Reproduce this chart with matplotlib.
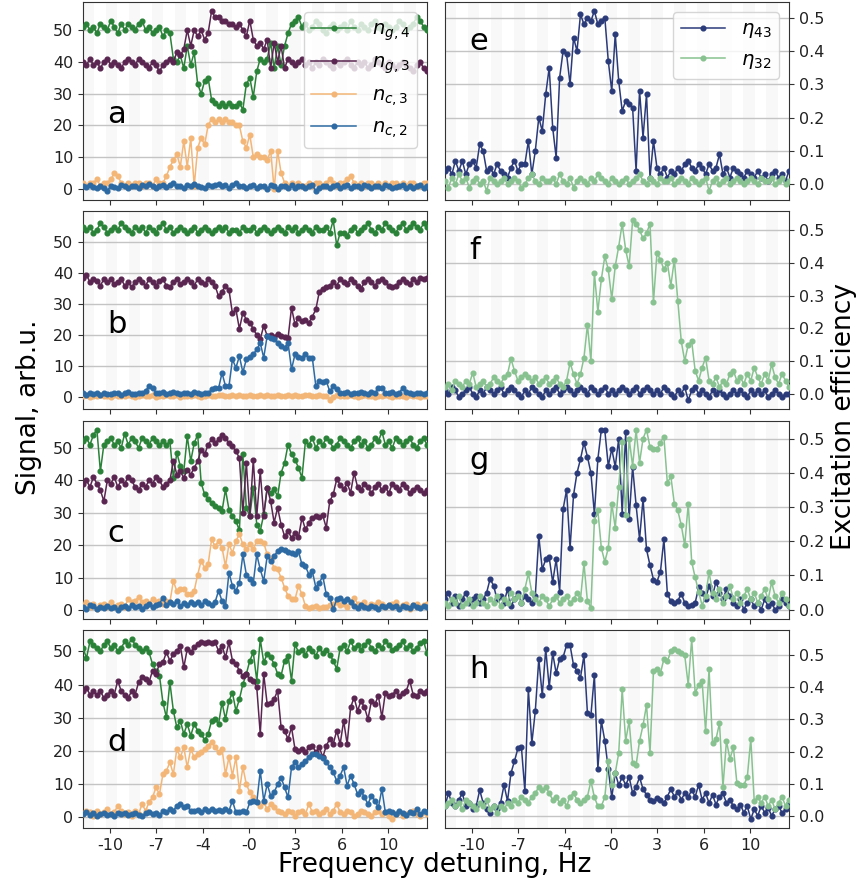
import matplotlib.pyplot as plt
import numpy as np

# ---- panel a / e ----
a_ng4 = [51, 52, 50, 51, 49, 52, 51, 50, 53, 51, 49, 52, 50, 52, 51, 50, 52, 53, 50, 51,
         49, 50, 51, 48, 50, 49, 41, 40, 42, 38, 45, 39, 43, 33, 30, 34, 35, 28, 27, 26,
         27, 26, 27, 26, 26, 27, 25, 33, 35, 29, 37, 41, 40, 41, 46, 38, 45, 39, 45, 49,
         52, 53, 54, 51, 52, 50, 51, 53, 52, 50, 49, 51, 52, 50, 51, 52, 50, 53, 51, 50,
         52, 51, 50, 52, 53, 51, 50, 52, 51, 50, 51, 53, 52, 50, 51, 52, 54, 53, 51, 50]
a_ng3 = [40, 39, 41, 39, 40, 38, 40, 41, 39, 40, 39, 38, 40, 41, 40, 39, 41, 40, 39, 38,
         40, 39, 37, 39, 40, 41, 40, 43, 42, 44, 50, 45, 50, 48, 50, 47, 49, 56, 54, 54,
         53, 53, 52, 52, 51, 52, 50, 48, 53, 47, 45, 46, 44, 47, 38, 46, 40, 45, 38, 41,
         40, 39, 40, 41, 39, 40, 38, 40, 39, 41, 40, 39, 38, 40, 39, 40, 41, 39, 38, 40,
         39, 40, 38, 39, 41, 40, 39, 38, 40, 39, 38, 39, 40, 39, 38, 37, 39, 40, 38, 37]
a_nc3 = [2, 1, 2, 2, 3, 1, 2, 2, 3, 5, 4, 2, 1, 2, 1, 2, 2, 1, 2, 2,
         1, 3, 2, 2, 4, 7, 9, 11, 7, 15, 7, 16, 1, 13, 16, 14, 20, 22, 21, 22,
         21, 22, 21, 21, 20, 20, 15, 13, 17, 10, 11, 10, 10, 9, 12, 0, 12, 5, 2, 1,
         2, 1, 2, 1, 1, 2, 1, 2, 2, 1, 2, 3, 2, 1, 2, 2, 3, 4, 2, 1,
         2, 1, 2, 2, 1, 2, 1, 2, 1, 2, 2, 1, 2, 1, 2, 2, 1, 1, 2, 2]
a_nc2 = [0.8, 0.5, 1.2, 0.6, 0.3, 1.0, 0.4, -0.5, 0.9, 0.7, 0.2, 1.1, 0.8, 0.4, 1.0, 0.9, 0.3, 1.2, 0.8, 1.6,
         1.0, 0.3, 0.9, 1.1, 0.7, 1.3, 1.8, 1.0, 0.9, 0.2, 1.1, 0.8, 1.5, 1.0, 0.7, 0.4, 1.2, 0.9, 1.1, 1.7,
         1.0, 1.2, 0.3, 1.1, 1.9, 0.8, 1.0, 0.2, 0.9, 1.1, 0.3, 1.0, 0.9, 0.1, 1.2, 0.8, 0.0, 1.0, 0.9, 0.2,
         1.1, 0.4, 0.9, 1.0, 0.2, 0.8, 1.2, -0.6, 0.3, 0.9, 1.0, 0.2, 0.8, 1.1, 0.3, 0.9, 1.2, 0.4, 0.8, 1.0,
         0.3, 1.1, 0.9, 0.2, 0.8, 1.0, 0.4, 1.1, 0.9, 0.3, 0.7, 1.0, 1.2, 0.3, 0.9, 0.4, 0.8, 1.1, 0.2, 0.9]
e_eta43 = [0.04, 0.05, 0.03, 0.07, 0.04, 0.07, 0.03, 0.06, 0.07, 0.05, 0.12, 0.10, 0.04, 0.05, 0.03,
           0.06, 0.04, 0.03, 0.02, 0.05, 0.07, 0.04, 0.06, 0.06, 0.13, 0.03, 0.10, 0.20, 0.16, 0.27,
           0.35, 0.17, 0.08, 0.32, 0.40, 0.39, 0.30, 0.44, 0.40, 0.51, 0.48, 0.50, 0.49, 0.52, 0.48,
           0.49, 0.50, 0.37, 0.28, 0.45, 0.31, 0.22, 0.25, 0.24, 0.23, 0.04, 0.28, 0.14, 0.27, 0.02,
           0.13, 0.05, 0.03, 0.05, 0.02, 0.04, 0.03, 0.05, 0.04, 0.06, 0.07, 0.05, 0.04, 0.06, 0.05,
           0.03, 0.06, 0.04, 0.05, 0.09, 0.03, 0.05, 0.02, 0.05, 0.04, 0.03, 0.02, 0.04, 0.03, 0.02,
           0.04, 0.02, 0.03, 0.01, 0.03, 0.04, 0.02, 0.03, 0.01, 0.04]
e_eta32 = [0.01, -0.01, 0.02, 0.00, 0.03, 0.01, 0.02, -0.01, 0.01, 0.02, 0.00, 0.01, -0.02, 0.02, 0.01,
           0.00, 0.01, 0.02, 0.00, 0.01, 0.02, 0.01, -0.01, 0.00, 0.02, 0.03, 0.01, 0.00, 0.02, 0.01,
           0.01, 0.02, 0.00, 0.03, 0.01, 0.00, 0.02, -0.01, 0.01, 0.02, 0.01, 0.00, 0.02, 0.01, 0.03,
           0.02, 0.01, 0.00, 0.02, 0.01, 0.00, 0.01, 0.02, 0.00, 0.01, 0.02, 0.03, 0.01, 0.00, 0.02,
           0.01, 0.00, 0.02, 0.01, 0.01, 0.02, 0.00, 0.01, 0.02, 0.01, 0.00, 0.02, 0.01, 0.00, 0.01,
           0.02, -0.02, 0.01, 0.02, 0.00, 0.01, 0.02, 0.00, 0.01, 0.02, 0.01, 0.00, 0.01, 0.02, 0.01,
           0.00, 0.02, 0.01, 0.01, 0.02, 0.00, 0.01, 0.02, 0.00, 0.01]

# ---- panel b / f ----
b_ng4 = [55, 54, 55, 53, 54, 56, 55, 53, 54, 55, 54, 56, 55, 54, 53, 55, 54, 55, 53, 55,
         54, 53, 55, 56, 54, 55, 53, 54, 55, 54, 53, 54, 55, 53, 54, 55, 54, 53, 54, 55,
         54, 55, 53, 54, 54, 53, 55, 54, 54, 55, 53, 54, 55, 54, 53, 54, 55, 54, 53, 55,
         54, 55, 53, 54, 55, 54, 53, 55, 54, 54, 55, 53, 57, 49, 53, 53, 52, 54, 55, 53,
         54, 55, 56, 54, 53, 55, 54, 56, 55, 54, 53, 55, 56, 54, 55, 56, 55, 54, 56, 55]
b_ng3 = [38.5, 39.5, 37, 38, 37.5, 36, 38, 37, 38, 36.5, 37, 38, 36, 37, 35.5, 37, 38, 37, 36, 38,
         37, 36, 37.5, 38, 36, 35.5, 37, 38, 36.5, 37, 38, 37, 36, 38, 37, 36.5, 38, 37,
         36, 32.5, 34, 36, 34.6, 27, 28.3, 22, 27.2, 25, 24, 22, 20, 18.7, 23, 19.8, 20, 19.5,
         20.5, 19.8, 19.5, 19, 28.8, 23.5, 25.6, 24.5, 25, 24, 26, 28.3, 34, 35, 35.5, 36,
         37, 36, 38, 37, 36.5, 38, 37, 36, 35, 37, 38, 37, 36, 37.5, 38, 37, 36, 35.5, 36, 37,
         38, 37, 36.5, 38, 37, 38.5, 38, 38.5]
b_nc3 = [0.3, 0.6, 0.2, 0.5, 0.4, 0.7, 0.3, 0.5, 0.2, 0.6, 0.4, 0.5, 0.3, 0.7, 0.4, 0.2, 0.5, 0.6, 0.3, 0.4,
         0.6, 0.2, 0.5, 0.4, 0.7, 0.3, 0.5, 0.6, 0.2, 0.4, 0.5, 0.3, 0.6, 0.4, 0.2, 0.5, 0.7, 0.3, 0.4, 0.6,
         0.8, 0.5, 0.3, 0.6, 0.4, 0.7, 0.5, 0.3, 0.6, 0.4, 0.5, 0.8, 0.3, 0.6, 0.5, 0.4, 0.7, 0.3, 0.5, 0.6,
         0.4, 0.8, 0.5, 0.3, 0.6, 0.7, 0.4, 0.5, 0.6, 0.3, 0.5, -1.0, 0.2, 0.6, 0.4, 0.5, 0.3, 0.7, 0.4, 0.2,
         0.5, 0.6, 0.3, 0.4, 0.2, 0.5, 0.3, 0.6, 0.4, 0.2, 0.5, 0.3, 0.4, 0.2, 0.6, 0.3, 0.5, 0.2, 0.4, 0.3]
b_nc2 = [1.2, 0.8, 1.5, 1.0, 1.3, 0.7, 1.4, 1.1, 0.9, 1.5, 1.2, 0.8, 1.3, 1.6, 1.0, 0.9, 1.4, 1.2, 2.0, 3.6,
         2.8, 1.5, 1.2, 1.8, 1.0, 1.4, 1.6, 1.2, 0.9, 1.5, 1.3, 1.1, 1.6, 1.4, 1.0, 1.3, 1.2,
         2.5, 3.0, 2.8, 7.8, 3.6, 3.5, 12.2, 9.5, 13.2, 8.0, 12.2, 12.8, 13.8, 15.4, 17.5, 12.7, 19.8, 19.0,
         18.7, 17.5, 16.5, 16.0, 17.5, 9.0, 13.8, 13.0, 12.7, 14.0, 12.7, 12.5, 3.6, 5.2, 5.0, 5.2, 1.9, 3.5,
         2.5, 1.5, 1.3, 1.6, 1.1, 1.5, 1.2, 1.8, 1.4, 1.0, 1.6, 1.3, 2.8, 3.0, 1.5, 1.2, 1.8, 1.1, 1.4, 3.0,
         1.6, 1.2, 1.0, 1.5, 1.3, 1.1, 1.2]
f_eta43 = [0.01, 0.00, 0.02, 0.01, -0.01, 0.00, 0.01, 0.02, 0.00, -0.01, 0.01, 0.00, 0.02, 0.01, 0.00,
           0.01, 0.02, 0.00, 0.01, 0.02, 0.01, 0.00, -0.01, 0.01, 0.00, 0.02, 0.01, 0.00, -0.01, 0.01,
           0.00, 0.01, 0.02, 0.00, 0.01, 0.02, 0.01, 0.00, 0.01, 0.02, 0.01, 0.00, 0.02, 0.01, 0.00,
           0.01, 0.02, 0.00, 0.01, 0.00, 0.01, 0.02, 0.01, 0.00, 0.01, 0.02, 0.00, 0.01, 0.02, 0.01,
           0.00, 0.01, 0.00, 0.02, 0.01, 0.00, -0.01, 0.01, 0.00, 0.02, -0.02, 0.01, 0.02, 0.00, 0.01,
           0.00, -0.01, 0.01, 0.00, 0.01, 0.00, -0.01, 0.00, 0.01, 0.00, 0.01, 0.00, -0.01, 0.01, 0.00,
           0.01, 0.00, 0.01, -0.01, 0.00, 0.01, 0.00, -0.01, 0.00, 0.00]
f_eta32 = [0.02, 0.03, 0.01, 0.04, 0.03, 0.02, 0.04, 0.03, 0.064, 0.02, 0.03, 0.04, 0.02, 0.03, 0.05,
           0.04, 0.03, 0.05, 0.06, 0.107, 0.07, 0.04, 0.05, 0.06, 0.05, 0.04, 0.05, 0.03, 0.04, 0.05,
           0.03, 0.04, 0.05, 0.03, 0.02, 0.04,
           0.095, 0.06, 0.03, 0.06, 0.11, 0.21, 0.10, 0.37, 0.25, 0.35, 0.42, 0.38, 0.29, 0.39, 0.45,
           0.52, 0.44, 0.39, 0.53, 0.52, 0.50, 0.475, 0.49, 0.52, 0.28, 0.43, 0.41, 0.38, 0.40, 0.33,
           0.41, 0.285, 0.16, 0.10, 0.15, 0.16, 0.07, 0.04, 0.08,
           0.11, 0.04, 0.03, 0.05, 0.02, 0.04, 0.03, 0.06, 0.07, 0.04, 0.05, 0.03, 0.06, 0.04, 0.08,
           0.05, 0.03, 0.06, 0.04, 0.09, 0.05, 0.03, 0.06, 0.04, 0.02]

# ---- panel c / g ----
c_ng4 = [52, 53, 51, 54, 55.6, 42.8, 51, 52, 53, 51, 52, 50, 54.4, 51, 53, 52, 50, 53, 52, 51,
         53, 52, 51, 52, 51, 52,
         40.8, 48.5, 44.4, 42.8, 53.6, 45.9, 51.5, 54.1, 39.2, 35.7, 34.4, 33.1, 32.1, 31.6, 30.5,
         37.2, 31, 29, 27.5, 24.6, 48,
         31.6, 29, 37.7, 26.4, 24.4, 29.5, 37.7, 36.2, 37.2, 35.1, 42.3, 45.4, 51, 48, 46.4, 43.9, 40.8,
         52, 51, 53, 50, 52, 51, 53, 52, 50, 51, 53, 52, 51, 50, 52, 53, 51, 52, 50, 51,
         53, 52, 55, 51, 52, 50, 53, 52, 51, 52, 53, 51, 50, 52, 53, 51]
c_ng3 = [39, 40, 38, 41, 39, 37, 33.6, 40, 39, 41, 38, 40, 39, 41, 40, 38, 37, 39, 38, 40,
         39, 41, 40, 38, 39, 40,
         45.9, 41.8, 42.8, 40.8, 43.3, 41.8, 43.9, 45.9, 49.5, 48, 51, 52.6, 51.5, 52.6, 54.1, 53.1,
         51.5, 50.5, 49,
         46.9, 30, 45.4, 29, 46.4, 29, 42.8, 29, 37.7, 33.6, 27, 31.6, 26.4, 22.8, 24.4, 22.3, 23.9,
         22.5, 28.5, 24.9, 27, 28.5, 29, 28.8, 29.2, 25.4, 33.6, 35.7, 40.3, 38.7, 37.2, 39.2, 36.2, 42.3,
         38, 37, 39, 38, 36, 38, 39, 37, 38, 36, 39, 38, 37, 39, 38, 36, 37, 38, 37, 36, 37]
c_nc3 = [1.5, 2.5, 1, 2, 0.5, 1.5, 2, 1, 2.5, 1, 1.5, 2, 1,
         3.5, 2.5, 3, 4, 2.5, 3, 2, 3.5, 2.5, 3, 2, 3, 2.5,
         9, 5.9, 6.5, 6.5, 4.9, 4.9, 6, 11, 15.2, 13.1, 14.1, 21.8, 19.8, 21.3, 19.3, 13.6, 20.3,
         17.7, 21.3, 23.4, 20.3, 18.8, 20.3, 18.8, 21.3, 21.3, 20.8, 17.2, 15.7, 13.1, 12.6, 10, 7,
         4.4, 3.4, 3.4, 7.5, 4.9, 1.3, 0.8, 1, 1.2, 0.8, 1, 0.9,
         1.5, 2, 2.5, 1.5, 2, 1, 2.5, 3.9, 2, 1.5, 2.5, 1, 2, 1.5, 2.5, 2, 1, 1.5, 2, 2.5,
         1, 1.5, 2, 0.5, 1.5, 2, 1, 1.5, 2]
c_nc2 = [1, 0.5, 1.5, 1.2, 0.3, 1, 0.8, 1.4, 0.6, 1.1, 0.2, 1, 1.3, 0.7, 1.5, 0.9, 1.2, 0.5, 1.4, 1.8,
         1, 1.6, 2,
         3.9, 1.5, 2.4, 1.8, 2.9, 1.3, 2.2, 1.6, 2.7, 1.9, 2.4, 1.5, 2.8, 2.1, 1.6, 2.5, 6, 2.9, 1.3,
         11.6, 7.5, 6, 8.5,
         17.2, 11, 9.5, 8.5, 17.2, 12.6, 9, 16.7, 15.2, 16.7, 18.2, 18.8, 18.5, 18, 17.7, 17.2, 18.2,
         14.1, 13.6, 11, 12, 7, 8.5, 10.5, 4.9, 3.9, 0.3, 3.4, 3.9, 2.9, 3.5, 2.5,
         1.2, 0.8, 1.5, 1, 0.6, 1.3, 1.1, 0.5, 1.4, 1, 1.6, 0.9, 1.2, 0.4, 1.3, 1, 0.7, 1.5, 1.1, 0.6,
         1.2, 0.9]
g_eta43 = [0.03, 0.05, 0.02, 0.04, 0.01, 0.03, 0.05, 0.02, 0.03, 0.04, 0.02, 0.03, 0.05, 0.09, 0.07,
           0.03, 0.04, 0.02, 0.06, 0.01, 0.03, 0.05, 0.02, 0.04, 0.03, 0.02,
           0.04, 0.215, 0.118, 0.147, 0.153, 0.08, 0.147, 0.053, 0.294, 0.35, 0.18, 0.335, 0.40, 0.44,
           0.488, 0.447, 0.40, 0.28, 0.44, 0.526, 0.524, 0.42, 0.47, 0.418, 0.5, 0.28, 0.518, 0.265,
           0.418, 0.306, 0.206, 0.324, 0.176, 0.13, 0.088, 0.082, 0.11, 0.206, 0.047, 0.024, 0.02,
           0.025, 0.047, 0.02, 0.01, 0.015, 0.02, 0.065, 0.05, 0.03, 0.07, 0.04, 0.082, 0.05, 0.03,
           0.06, 0.04,
           0.02, 0.01, 0.03, 0.0, 0.02, 0.03, 0.01, 0.02, 0.0, 0.03, 0.01, 0.02, 0.0, 0.01, 0.03, 0.02, 0.01]
g_eta32 = [0.02, 0.01, 0.03, 0.02, 0.04, 0.01, 0.02, 0.03, 0.01, 0.02, 0.04, 0.02, 0.01, 0.03, 0.02,
           0.04, 0.01, 0.03, 0.02, 0.05, 0.03, 0.04, 0.02, 0.06, 0.106, 0.05, 0.03, 0.02, 0.04, 0.03,
           0.01, 0.03, 0.04, 0.02, 0.03, 0.04, 0.02, 0.03, 0.05, 0.03,
           0.135, 0.024, 0.006, 0.26, 0.29, 0.18, 0.14, 0.18, 0.31, 0.24, 0.36, 0.49, 0.276, 0.5, 0.42,
           0.524, 0.43, 0.5, 0.526, 0.476, 0.47, 0.47, 0.488, 0.506, 0.37, 0.39, 0.31, 0.29, 0.247,
           0.188, 0.31, 0.14, 0.094, 0.053, 0.012, 0.04, 0.11, 0.05,
           0.03, 0.06, 0.02, 0.04, 0.07, 0.03, 0.05, 0.02, 0.04, 0.06, 0.03, 0.05, 0.02, 0.04, 0.06,
           0.03, 0.08, 0.04, 0.02, 0.05, 0.03, 0.01]

# ---- panel d / h ----
d_ng4 = [51, 48, 53, 52, 51, 50, 52, 53, 51, 52, 50, 51, 53, 52, 53.7, 52, 51, 50, 51,
         49.7, 46.2, 44.2, 42.7, 34.6, 30.1, 40.7, 32.1, 27.1, 29.1, 25.1, 28.1, 24.6, 28.1, 26.1,
         25.1, 23.3, 25.1, 29.1, 29.6, 28.1, 34.6, 29.6, 35.1, 37.6, 32.1, 35.6, 40.1, 43.2, 47.2, 49.7,
         41.2, 53.7, 46.7, 49.2, 48.2, 46.2, 43.2, 42.7, 47.2, 48.7, 41.2, 52.2, 49.7,
         50.5, 49, 51, 50, 48.7, 51, 49.5, 50.5, 49, 47.2, 44.7,
         51, 52, 50, 53, 51, 52, 50.5, 52, 53, 51, 50, 52, 51, 53, 52, 50.5, 51, 52, 53, 51,
         52, 50, 51, 52.5, 53, 49.4]
d_ng3 = [38, 39, 37, 38, 37, 38, 36, 37, 38, 37, 41.2, 38, 37, 36, 38, 37,
         40.7, 42.2, 41.7, 40.7, 44.2, 43.2, 46.2, 46.7, 49.7, 47.2, 49.2, 50.2, 51.7, 45.2, 50.7,
         49.7, 51.2, 52.2, 52.7, 52.5, 52.7, 52.4, 52.7, 50.2, 51.7, 48.2, 52.7, 47.2, 46.2, 44.2,
         42.7, 43.2, 41.7,
         41.2, 39.2, 25.1, 43.2, 34.1, 34.6, 35.6, 38.2, 27.1, 26.1, 23.6, 27.1, 20.6, 20.1, 20.6,
         19.6, 21.1, 21.6, 19.6, 21.1, 18.1, 21.6, 23.6, 22.1, 26.1, 22.1, 29.1, 22.1, 33.1, 36.1,
         32.1, 35.1, 33.1, 29.6, 35.1, 34.1, 36.6, 30.1, 37.6,
         36.6, 37, 38, 36.5, 37.5, 38, 41.2, 37, 36.5, 38, 37.5, 38.2]
d_nc3 = [1, 2, 1.5, 0.5, 2, 1, 1.5, 2.5, 1, 1.5, 3.5, 2, 1, 1.5, 0.5, 2, 1,
         4, 2, 4.5, 6, 9, 7, 13, 14, 16.6, 13, 20.6, 18.1, 21.1, 15.1, 20.6, 18.1, 19.1, 19.6, 20.5,
         21.6, 22.6, 21.1, 19.6, 20.6, 13, 18.1, 12.6, 18.1, 8, 15.1, 10, 7.5, 6, 4.5, 3.5, 4.5, 2.5,
         4, 3, 2,
         1.5, 1, 2, 1.5, 0.5, 1.5, 2, 1, 4, 1.5, 2, 1, 1.5, 2.5, 1, 2, 4, 1.5, 1, 2,
         1.5, 0.5, 1, 2, 1.5, 1, 0.5, 1.5, 2, 1, 1.5, 0.5, -0.5, 1, 1.5, 0.5, 1, 1.5, 2, 1,
         0.5, 1.5, 1]
d_nc2 = [1, 1.5, 0.8, 1.2, 0.5, 1, 1.3, 0.7, 1.1, 0.4, 1.2, 0.9, 1.4, 0.6, 1, 1.3, 0.8, 0.5, 1.2, 1.5,
         0.9, 1.4, 0.6,
         2, 1.5, 2.5, 2, 3.5, 4, 3, 3.5, 2, 1.8, 2.3, 1.6, 2.4, 2, 2.5, 1.8, 2.2, 1.9, 2.6, 2,
         5, 1.5, 1.5, 1.8, 1.5,
         4.5, 5, 4.5, 14, 5, 10, 6.5, 7.5, 10, 12, 9, 6, 15.1, 16.6, 15.1, 16.1, 17.1, 18.1, 19.1, 19,
         18.5, 18, 16.6, 15.1, 13.6, 11, 12.6, 15.1, 9.5, 12.6, 10, 7, 8, 6, 4, 6.5, 5, 3, 8.5, 1.5, 2,
         1.5, 1, 1.8, 1.2, 0.8, 1.5, 1.2, 2.5, 1, 1.8, 1.5]
h_eta43 = [0.03, 0.07, 0.04, 0.03, 0.05, 0.07, 0.03, 0.04, 0.02, 0.03, 0.08, 0.04, 0.02, 0.01, 0.03,
           0.02, 0.04,
           0.096, 0.046, 0.133, 0.17, 0.21, 0.214, 0.077, 0.394, 0.226, 0.326, 0.488, 0.375, 0.519,
           0.4, 0.506, 0.444, 0.488, 0.494, 0.531, 0.531, 0.469, 0.45, 0.43, 0.5, 0.32, 0.313, 0.438,
           0.146, 0.295, 0.233, 0.146, 0.058, 0.133, 0.096, 0.12, 0.096, 0.12, 0.071, 0.09, 0.12,
           0.083, 0.065,
           0.05, 0.045, 0.055, 0.05, 0.04, 0.06, 0.083, 0.06, 0.075, 0.05, 0.07, 0.058, 0.08, 0.06,
           0.096, 0.05, 0.07, 0.04, 0.065, 0.035, 0.06, 0.07, 0.04, 0.05, 0.03, 0.02, 0.035, 0.01,
           0.03, -0.01, 0.02, 0.0, 0.03, 0.01, 0.025, 0.0, 0.02, 0.03, 0.01, 0.02, 0.04]
h_eta32 = [0.03, 0.04, 0.05, 0.03, 0.04, 0.02, 0.05, 0.04, 0.03, 0.02, 0.04, 0.03, 0.05, 0.02, 0.03,
           0.01, 0.03, 0.02, 0.04, 0.03, 0.05, 0.04, 0.06, 0.05, 0.04, 0.06, 0.07, 0.09, 0.08, 0.09,
           0.07, 0.05, 0.06, 0.04, 0.05, 0.03, 0.06, 0.07, 0.05, 0.04, 0.05, 0.06,
           0.108, 0.058, 0.03, 0.03, 0.058, 0.17, 0.096, 0.133, 0.195, 0.394, 0.233, 0.295, 0.164,
           0.158, 0.233, 0.282, 0.345, 0.195, 0.45, 0.456, 0.444, 0.488, 0.481, 0.512, 0.519, 0.512,
           0.506, 0.5, 0.407, 0.55, 0.382, 0.407, 0.419, 0.264, 0.456, 0.226, 0.239, 0.289, 0.09,
           0.233, 0.177, 0.214, 0.102, 0.096, 0.096, 0.12, 0.239, 0.046,
           0.058, 0.04, 0.06, 0.03, 0.05, 0.02, 0.04, 0.06, 0.03, 0.05]

xtick_labels = ['-10', '-7', '-4', '-0', '3', '6', '10']
xtick_pos = [7.8, 21.1, 34.5, 47.8, 61.1, 74.5, 87.8]

signal_labels = [r'$n_{g,4}$', r'$n_{g,3}$', r'$n_{c,3}$', r'$n_{c,2}$']
eff_labels = [r'$\eta_{43}$', r'$\eta_{32}$']
signal_colors = ['#2a8238', '#5a2651', '#f3b677', '#2d6aa3']
eff_colors = ['#2b3b7a', '#88c290']

left_panels = [('a', [a_ng4, a_ng3, a_nc3, a_nc2]),
               ('b', [b_ng4, b_ng3, b_nc3, b_nc2]),
               ('c', [c_ng4, c_ng3, c_nc3, c_nc2]),
               ('d', [d_ng4, d_ng3, d_nc3, d_nc2])]
right_panels = [('e', [e_eta43, e_eta32]),
                ('f', [f_eta43, f_eta32]),
                ('g', [g_eta43, g_eta32]),
                ('h', [h_eta43, h_eta32])]

fig, axes = plt.subplots(4, 2, figsize=(8.6, 8.86), dpi=100)
plt.subplots_adjust(left=83/860, right=789/860, bottom=1-828/886, top=1-2/886,
                    wspace=0.052, hspace=0.058)


def style_axis(ax, last_row):
    # faint alternating background bands
    for k in range(0, 30, 2):
        ax.axvspan(k*3.3, (k+1)*3.3, color='#f8f8f8', lw=0, zorder=0)
    ax.grid(axis='y', color='#c4c4c4', lw=1.0, zorder=1)
    ax.set_axisbelow(True)
    ax.set_xlim(0, 99)
    ax.set_xticks(xtick_pos)
    if last_row:
        ax.set_xticklabels(xtick_labels)
    else:
        ax.set_xticklabels([])
    for sp in ax.spines.values():
        sp.set_color('#333333')
    ax.tick_params(labelsize=11.5, colors='#333333', labelcolor='#222222')


for row, (letter, series) in enumerate(left_panels):
    ax = axes[row, 0]
    for y, col, lab in zip(series, signal_colors, signal_labels):
        ax.plot(range(len(y)), y, '-o', color=col, lw=1.1, ms=3.4, label=lab, zorder=3)
    style_axis(ax, row == 3)
    ax.set_yticks([0, 10, 20, 30, 40, 50])
    ax.text(0.07, 0.43, letter, transform=ax.transAxes, fontsize=22, ha='left', va='center')
    if row == 0:
        ax.legend(loc='upper right', fontsize=14, handlelength=2.3, labelspacing=0.5)

for row, (letter, series) in enumerate(right_panels):
    ax = axes[row, 1]
    for y, col, lab in zip(series, eff_colors, eff_labels):
        ax.plot(range(len(y)), y, '-o', color=col, lw=1.1, ms=3.4, label=lab, zorder=3)
    style_axis(ax, row == 3)
    ax.yaxis.tick_right()
    ax.set_yticks([0.0, 0.1, 0.2, 0.3, 0.4, 0.5])
    ax.set_yticklabels(['0.0', '0.1', '0.2', '0.3', '0.4', '0.5'])
    ax.text(0.07, 0.80, letter, transform=ax.transAxes, fontsize=22, ha='left', va='center')
    if row == 0:
        ax.legend(loc='upper right', fontsize=14, handlelength=2.3, labelspacing=0.5)

fig.text(0.034, 0.54, 'Signal, arb.u.', rotation=90, fontsize=19, ha='center', va='center')
fig.text(0.981, 0.53, 'Excitation efficiency', rotation=90, fontsize=19, ha='center', va='center')
fig.text(0.505, 0.024, 'Frequency detuning, Hz', fontsize=19, ha='center', va='center')

plt.savefig('out.png', dpi=100)
